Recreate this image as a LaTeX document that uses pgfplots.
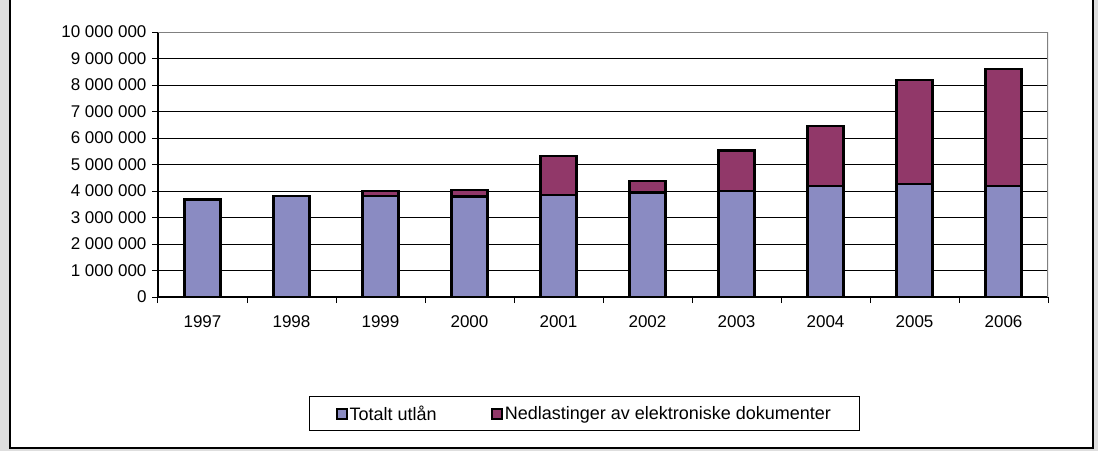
\documentclass[border=0pt]{standalone}
\usepackage{pgfplots}
\pgfplotsset{compat=1.18}
\usepackage{fontspec}
\setmainfont{Liberation Sans}
\definecolor{bgray}{HTML}{DEDEDE}
\definecolor{barblue}{HTML}{8A8BC2}
\definecolor{barpurple}{HTML}{913869}
\definecolor{frameg}{HTML}{808080}
\begin{document}
\begin{tikzpicture}
\path[use as bounding box] (0pt,0pt) rectangle (1098pt,451pt);
\fill[bgray] (0pt,0pt) rectangle (1098pt,451pt);
\fill[white] (10pt,3pt) rectangle (1093pt,470pt);
\draw[black, line width=2pt] (10pt,470pt) -- (10pt,3pt) -- (1093pt,3pt) -- (1093pt,470pt);
\begin{axis}[
  at={(158pt,154pt)}, anchor=south west,
  scale only axis, width=890pt, height=265pt,
  xmin=-0.5, xmax=9.5, ymin=0, ymax=10000000,
  ybar stacked, bar width=36pt,
  axis x line*=bottom, axis y line*=left,
  axis line style={black, line width=1.3pt, -},
  xtick={-0.5,0.5,...,9.5},
  x tick label as interval,
  xticklabels={1997,1998,1999,2000,2001,2002,2003,2004,2005,2006},
  xticklabel style={yshift=-9pt},
  ytick={0,1000000,2000000,3000000,4000000,5000000,6000000,7000000,8000000,9000000,10000000},
  yticklabels={0,1 000 000,2 000 000,3 000 000,4 000 000,5 000 000,6 000 000,7 000 000,8 000 000,9 000 000,10 000 000},
  yticklabel style={xshift=-2pt},
  scaled y ticks=false,
  tick align=outside, major tick length=6pt,
  tick style={black, line width=1pt},
  ymajorgrids, grid style={black, line width=0.9pt},
  tick label style={font=\fontsize{17}{20}\selectfont, text=black},
  legend columns=2,
  legend cell align=left,
  legend style={at={(0.479,-0.4396)}, anchor=center, draw=black, line width=0.8pt,
    font=\fontsize{18}{21}\selectfont, inner xsep=26pt, inner ysep=7pt,
    /tikz/every even column/.append style={column sep=52pt}},
  legend image code/.code={\draw[#1, draw=black, line width=2pt] (0pt,-5pt) rectangle (10pt,5pt);},
  every axis plot/.append style={draw=black, line width=2.2pt},
]
\addplot[fill=barblue, draw=black, line width=2.2pt] coordinates {
  (0,3680000) (1,3820000) (2,3810000) (3,3790000) (4,3860000)
  (5,3940000) (6,4010000) (7,4200000) (8,4260000) (9,4200000)};
\addplot[fill=barpurple, draw=black, line width=2.2pt] coordinates {
  (0,0) (1,0) (2,200000) (3,260000) (4,1460000)
  (5,450000) (6,1520000) (7,2250000) (8,3930000) (9,4390000)};
\legend{Totalt utlån, Nedlastinger av elektroniske dokumenter}
\draw[frameg, line width=1.3pt] (rel axis cs:0,1) -- (rel axis cs:1,1) -- (rel axis cs:1,0);
\end{axis}
\end{tikzpicture}
\end{document}
